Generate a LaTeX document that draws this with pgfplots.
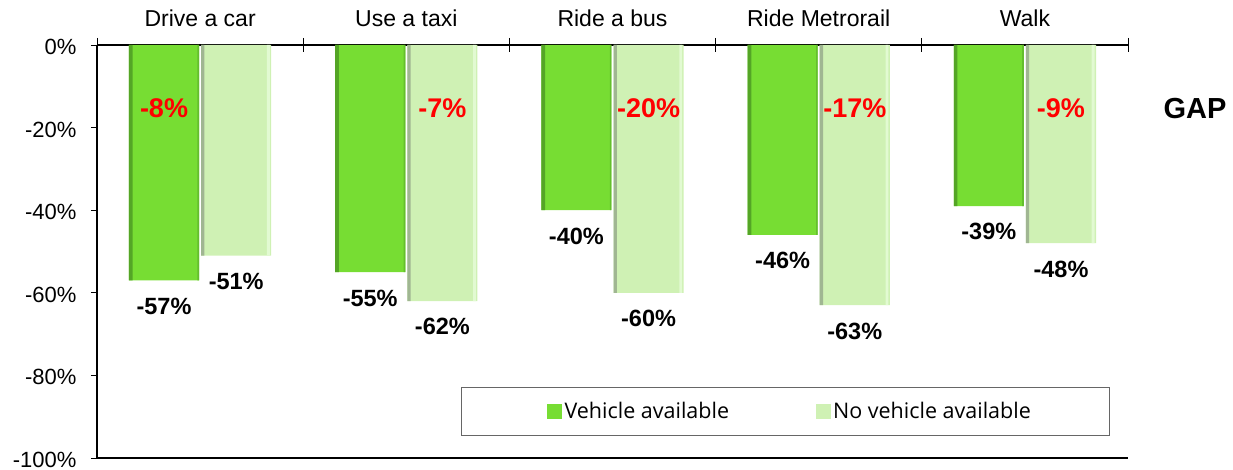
\documentclass[border=0pt]{standalone}
\usepackage{fontspec}
\setmainfont{Liberation Sans}
\newfontfamily\legfont{Open Sans}
\usepackage{pgfplots}
\pgfplotsset{compat=1.18}
\definecolor{vgreen}{RGB}{119,221,51}
\definecolor{vgreenedge}{RGB}{84,165,38}
\definecolor{vgreenright}{RGB}{100,190,45}
\definecolor{lgreen}{RGB}{207,241,180}
\definecolor{lgreenedge}{RGB}{160,182,146}
\definecolor{lgreenhi}{RGB}{226,250,210}
\begin{document}
\begin{tikzpicture}
\useasboundingbox (-97bp,-12bp) rectangle (1136bp,458bp);
\begin{axis}[
  at={(0,0)}, anchor=south west,
  scale only axis, width=1031bp, height=413bp,
  xmin=-0.5, xmax=4.5, ymin=-100, ymax=0,
  separate axis lines,
  axis x line*=box, axis y line*=left,
  axis line style={line width=1.6bp, black},
  clip=false,
  xtick={0,1,2,3,4},
  xticklabels={Drive a car, Use a taxi, Ride a bus, Ride Metrorail, Walk},
  xtick pos=right, xticklabel pos=right,
  xtick style={draw=none},
  extra x ticks={-0.5,0.5,1.5,2.5,3.5,4.5},
  extra x tick labels={},
  extra x tick style={xtick style={draw=black, line width=0.8bp}, major tick length=14bp, tick align=center, xtick pos=right},
  xticklabel style={font=\fontsize{23bp}{27bp}\selectfont, yshift=9bp},
  ytick={-100,-80,-60,-40,-20,0},
  yticklabels={-100\%,-80\%,-60\%,-40\%,-20\%,0\%},
  ytick pos=left,
  ytick style={line width=0.8bp, black},
  y tick label style={font=\fontsize{22bp}{26bp}\selectfont, xshift=-11bp, yshift=-2bp},
  tick align=outside, major tick length=6bp,
  legend columns=2,
  legend style={at={(rel axis cs:0.3531,0.0533)}, anchor=south west,
    draw=black!60, line width=1bp, fill=white,
    font=\legfont\fontsize{21.5bp}{24bp}\selectfont,
    inner xsep=76.5bp, inner ysep=13bp,
    nodes={inner xsep=2.5bp, inner ysep=2bp},
    /tikz/every even column/.append style={column sep=84bp}},
  every node near coord/.append style={text=black, font=\bfseries\fontsize{23.5bp}{27bp}\selectfont, anchor=north, yshift=-14bp},
]
% main bars
\addplot[ybar, bar width=0.34, bar shift=-0.175, draw=none, fill=vgreen,
  legend image code/.code={\path (0,0); \fill[vgreen] (9bp,-7.5bp) rectangle (24bp,7.5bp);}]
  coordinates {(0,-57) (1,-55) (2,-40) (3,-46) (4,-39)};
\addlegendentry{Vehicle available}
\addplot[ybar, bar width=0.34, bar shift=0.175, draw=none, fill=lgreen,
  legend image code/.code={\fill[lgreen] (0bp,-7.5bp) rectangle (15bp,7.5bp);}]
  coordinates {(0,-51) (1,-62) (2,-60) (3,-63) (4,-48)};
\addlegendentry{No vehicle available}
% bar edge shading strips
\addplot[ybar, forget plot, bar width=0.018, bar shift=-0.336, draw=none, fill=vgreenedge]
  coordinates {(0,-57) (1,-55) (2,-40) (3,-46) (4,-39)};
\addplot[ybar, forget plot, bar width=0.008, bar shift=-0.009, draw=none, fill=vgreenright]
  coordinates {(0,-57) (1,-55) (2,-40) (3,-46) (4,-39)};
\addplot[ybar, forget plot, bar width=0.016, bar shift=0.013, draw=none, fill=lgreenedge]
  coordinates {(0,-51) (1,-62) (2,-60) (3,-63) (4,-48)};
\addplot[ybar, forget plot, bar width=0.014, bar shift=0.331, draw=none, fill=lgreenhi]
  coordinates {(0,-51) (1,-62) (2,-60) (3,-63) (4,-48)};
% value labels
\addplot[forget plot, draw=none, mark=none, nodes near coords, point meta=explicit symbolic]
  coordinates {(-0.175,-57) [-57\%] (0.825,-55) [-55\%] (1.825,-40) [-40\%] (2.825,-46) [-46\%] (3.825,-39) [-39\%]};
\addplot[forget plot, draw=none, mark=none, nodes near coords, point meta=explicit symbolic]
  coordinates {(0.175,-51) [-51\%] (1.175,-62) [-62\%] (2.175,-60) [-60\%] (3.175,-63) [-63\%] (4.175,-48) [-48\%]};
\begin{scope}[every node/.style={text=red, font=\bfseries\fontsize{27bp}{31bp}\selectfont}]
\node at (axis cs:-0.175,-15.3) {-8\%};
\node at (axis cs:1.175,-15.3) {-7\%};
\node at (axis cs:2.175,-15.3) {-20\%};
\node at (axis cs:3.175,-15.3) {-17\%};
\node at (axis cs:4.175,-15.3) {-9\%};
\end{scope}
\node[font=\bfseries\fontsize{29bp}{33bp}\selectfont] at (axis cs:4.825,-15.3) {GAP};
\end{axis}
\end{tikzpicture}
\end{document}
